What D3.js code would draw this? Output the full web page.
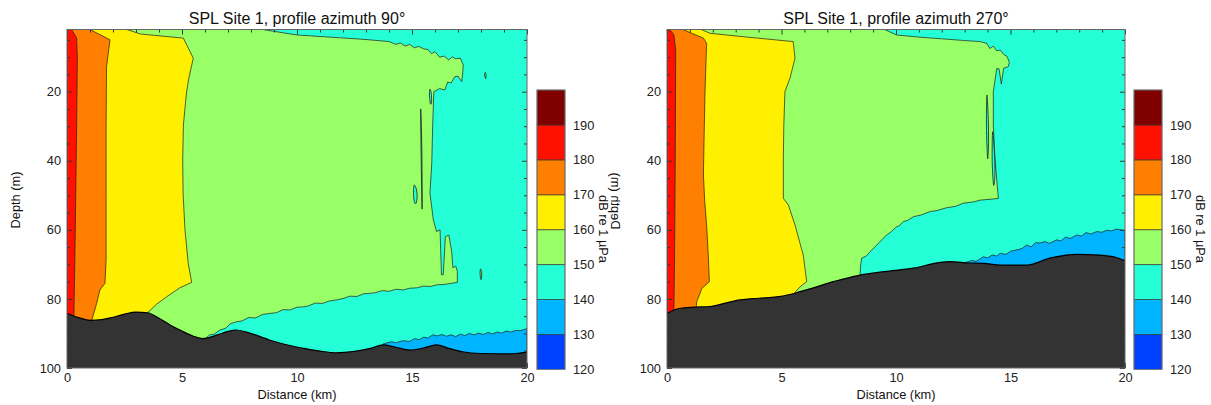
<!DOCTYPE html>
<html><head><meta charset="utf-8">
<script src="https://cdn.jsdelivr.net/npm/d3@7"></script>
<style>body{margin:0;background:#fff}svg{display:block;font-family:"Liberation Sans",Arial,sans-serif}</style>
</head><body><svg id="c" width="1211" height="405"></svg>
<script>
// ---------- data ----------
const titles = ["SPL Site 1, profile azimuth 90°", "SPL Site 1, profile azimuth 270°"];
const distanceTicks = [0, 5, 10, 15, 20];
const depthTicks = [20, 40, 60, 80, 100];
const levels = [120, 130, 140, 150, 160, 170, 180, 190, 200];
const levelTicks = [120, 130, 140, 150, 160, 170, 180, 190];
const levelColors = ["#0040ff", "#00b4ff", "#24ffd8", "#99ff66", "#fff000", "#ff8000", "#ff1000", "#800000"];
const seabedColor = "#333333";

// azimuth 90 : [distance km, depth m]
const seabed90 = [[0,84.2],[0.5,85.4],[1,86.2],[1.5,86],[2,85.3],[2.5,84.4],[3,83.8],[3.5,84],[4,85.6],[4.5,87.6],[5,89.3],[5.5,90.8],[5.9,91.5],[6.5,90.5],[7,89.4],[7.35,89],[7.8,89.6],[8.4,90.9],[8.8,91.9],[9.5,93.2],[10.3,94.3],[11,95.1],[11.7,95.6],[12.5,95.2],[13.2,94.3],[13.75,93.3],[14.3,94],[14.9,94.8],[15.5,94.2],[16.07,93.3],[16.6,94.3],[17.2,95.3],[18,95.8],[19,95.9],[19.5,95.8],[20,95.3]];
const band130_90 = [[13.75,93],[14.1,92.4],[14.3,92.7],[14.6,92.1],[14.9,92.3],[15.1,91.5],[15.3,91.8],[15.5,91.1],[15.7,91.3],[15.9,90.4],[16.1,90.7],[16.3,90.3],[16.5,90.8],[16.7,90.4],[16.9,90.9],[17.1,90.2],[17.3,90.6],[17.5,90.0],[17.7,90.4],[17.9,89.9],[18.1,90.3],[18.3,89.7],[18.5,90.1],[18.7,89.6],[18.9,89.9],[19.1,89.3],[19.3,89.6],[19.5,89.1],[19.7,89.2],[20,88.6],[20,100],[13.75,100]];
const band150_90 = [[0,2],[8.5,2],[10,3.6],[11.9,4.4],[13,4.9],[14,5.5],[14.3,6.3],[14.5,5.9],[14.7,6.8],[14.9,6.3],[15.1,7.3],[15.3,6.9],[15.5,7.6],[15.7,7.8],[15.85,9],[16.0,8.4],[16.2,10],[16.4,9.7],[16.6,10.8],[16.75,9.9],[16.9,10.5],[17.1,10.3],[17.23,12.3],[17.2,15],[17.16,17.1],[17.0,15.5],[16.85,15.7],[16.7,17.5],[16.55,17.2],[16.43,19.5],[16.2,19.1],[15.95,20],[15.9,29.6],[15.86,40.7],[15.78,49.4],[15.93,57.2],[16.07,60.5],[16.22,60],[16.28,73],[16.36,73],[16.45,62],[16.6,61.5],[16.72,66],[16.78,71],[16.9,70.5],[16.97,72],[16.97,75.2],[16.7,75.5],[16.4,75.8],[16.1,75.9],[15.8,76.4],[15.5,76.3],[15.2,76.8],[14.9,76.9],[14.62,77.4],[14.3,77.2],[14.0,77.8],[13.7,77.6],[13.4,78.2],[13.17,78.4],[12.9,78.5],[12.6,79.3],[12.3,79.2],[12.0,79.9],[11.7,80.3],[11.4,80.6],[11.1,81.3],[10.8,81.2],[10.5,82],[10.28,82.3],[10.0,82.4],[9.7,83.2],[9.4,83.1],[9.1,84],[8.83,84.2],[8.5,84.5],[8.2,85.5],[7.9,85.4],[7.6,86.4],[7.38,86.6],[7.1,87.2],[6.9,88.5],[6.65,89],[6.4,90.2],[6.2,90.4],[6.0,91.6],[5.9,100],[0,100]];
const band160_90 = [[0,2],[2.6,2],[3.2,3.3],[5.06,4.5],[5.49,10.3],[5.3,16],[5.2,20],[5.06,29.6],[5.03,40],[5.05,50],[5.13,60],[5.27,69.7],[5.42,75.2],[4.9,76.8],[4.33,79.4],[3.9,81.5],[3.5,84],[3.5,100],[0,100]];
const band170_90 = [[0,2],[1.0,2],[1.87,5],[1.72,12.8],[1.7,30],[1.7,50],[1.7,68.7],[1.65,75.5],[1.43,77.4],[1.29,81.3],[1.07,86.3],[1.07,100],[0,100]];
const band180_90 = [[0,2],[0.2,2],[0.42,4.5],[0.45,10],[0.42,30],[0.38,50],[0.34,70],[0.3,84.5],[0.3,100],[0,100]];
const pockets140_90 = [
  [[15.1,47],[15.2,48.5],[15.22,51],[15.15,52.5],[15.08,51],[15.07,48.5]],
  [[15.38,25],[15.43,38],[15.44,54],[15.4,40]],
  [[15.78,19.3],[15.84,20.5],[15.85,23],[15.8,23.5],[15.76,21]]
];
const specks150_90 = [
  [[18.18,14.4],[18.22,15.2],[18.2,16.2],[18.16,15.2]],
  [[17.98,71.3],[18.03,72.6],[18.0,74.4],[17.96,72.8]]
];

// azimuth 270
const seabed270 = [[0,84.2],[0.57,82.7],[1.2,82.4],[1.88,82.2],[2.5,81.3],[3.19,80.3],[4,79.8],[4.79,79.4],[5.3,78.8],[5.81,77.9],[6.54,76.5],[7.26,75],[7.55,74.5],[8.43,73.1],[9.5,72.1],[10.76,71.1],[11.94,69.4],[12.36,69.2],[13.2,69.6],[13.81,69.7],[14.55,70.2],[15.72,70.2],[16.72,68.2],[17.89,67.1],[18.89,67.3],[19.62,68],[20,68.9]];
const band130_270 = [[13.0,69.5],[13.3,68.9],[13.5,69.1],[13.81,67.8],[14.0,68.1],[14.2,67.3],[14.4,67.6],[14.55,66.8],[14.8,67.1],[15.0,66.2],[15.28,65.8],[15.5,65.4],[15.7,64.4],[15.9,64.9],[16.1,63.7],[16.29,63.8],[16.5,63.4],[16.7,63.9],[17.02,62.9],[17.2,63.2],[17.4,62.1],[17.6,62.5],[17.89,61.5],[18.1,61.8],[18.3,60.8],[18.5,61.2],[18.77,60.5],[19.0,60.7],[19.2,60.1],[19.4,60.3],[19.64,59.8],[20,60.2],[20,100],[13.0,100]];
const band150_270 = [[0,2],[9.5,2],[10.03,3.6],[11,4.2],[12,4.7],[13,5.2],[13.67,5.5],[13.96,6],[14.1,7.5],[14.25,6.8],[14.4,8.2],[14.55,7.9],[14.7,9.2],[14.85,9.8],[14.95,11.5],[14.9,12.8],[14.7,13.2],[14.6,17.8],[14.5,13.4],[14.4,13.3],[14.25,20],[14.25,29.6],[14.32,39.3],[14.47,50.9],[14.2,51.1],[13.67,51.4],[13.4,51.9],[12.94,52.3],[12.6,53.2],[12.21,53.6],[11.8,54.4],[11.49,54.7],[11.1,55.7],[10.76,56.2],[10.5,57.3],[10.32,57.6],[10.15,58.8],[10.03,59.1],[9.8,60.5],[9.59,61.5],[9.4,62.8],[9.23,63.9],[9.05,65.2],[8.87,66.3],[8.7,67.6],[8.5,68.2],[8.45,70.5],[8.43,73.3],[8.43,100],[0,100]];
const band160_270 = [[0,2],[1.5,2],[1.88,3.1],[3.5,4.2],[5.51,5.5],[5.59,10.3],[5.37,16.1],[5.15,20],[5.1,30],[5.08,40],[5.08,50.9],[5.3,52.8],[5.59,58.6],[5.95,67.3],[6.1,75],[5.81,76.5],[5.6,78],[5.6,100],[0,100]];
const band170_270 = [[0,2],[0.7,2],[1.08,3.1],[1.59,4.5],[1.73,6],[1.66,20],[1.63,30],[1.59,44.1],[1.65,52],[1.73,58.6],[1.8,67],[1.85,75],[1.52,77],[1.3,80.8],[1.27,82.7],[1.27,100],[0,100]];
const band180_270 = [[0,2],[0.15,2.3],[0.3,3.5],[0.38,8],[0.37,25],[0.36,40],[0.34,60],[0.32,75],[0.3,83],[0.3,100],[0,100]];
const pockets140_270 = [
  [[13.97,21],[14.03,28],[14.04,35],[14.0,39.3],[13.95,30]],
  [[14.22,31.6],[14.3,38],[14.32,44],[14.26,47],[14.2,40]]
];
const specks150_270 = [];

// ---------- layout ----------
const panels = [
  {title: titles[0], xr: [67, 527], cbx: 537, seabed: seabed90, bands: [[band130_90,1],[band150_90,3]], pockets: pockets140_90, specks: specks150_90, upper: [[band160_90,4],[band170_90,5],[band180_90,6]]},
  {title: titles[1], xr: [667, 1125], cbx: 1134, seabed: seabed270, bands: [[band130_270,1],[band150_270,3]], pockets: pockets140_270, specks: specks150_270, upper: [[band160_270,4],[band170_270,5],[band180_270,6]]}
];
const yr = [29.5, 368];
const svg = d3.select("#c");
const lineCol = "#1c1c1c";

panels.forEach((p, i) => {
  const x = d3.scaleLinear().domain([0, 20]).range(p.xr);
  const y = d3.scaleLinear().domain([2, 100]).range(yr);
  const g = svg.append("g");
  const cid = "clip" + i;
  svg.append("defs").append("clipPath").attr("id", cid).append("rect")
    .attr("x", p.xr[0]).attr("y", yr[0]).attr("width", p.xr[1] - p.xr[0]).attr("height", yr[1] - yr[0]);
  const pg = g.append("g").attr("clip-path", `url(#${cid})`);
  const line = d3.line().x(d => x(d[0])).y(d => y(d[1]));
  const poly = pts => line(pts) + "Z";

  pg.append("rect").attr("x", p.xr[0]).attr("y", yr[0]).attr("width", p.xr[1] - p.xr[0]).attr("height", yr[1] - yr[0]).attr("fill", levelColors[2]);
  p.bands.forEach(([pts, ci]) => pg.append("path").attr("d", poly(pts)).attr("fill", levelColors[ci]).attr("stroke", lineCol).attr("stroke-width", 0.7).attr("stroke-linejoin", "round"));
  p.pockets.forEach(pts => pg.append("path").attr("d", d3.line().x(d => x(d[0])).y(d => y(d[1])).curve(d3.curveCardinalClosed)(pts)).attr("fill", levelColors[2]).attr("stroke", lineCol).attr("stroke-width", 0.8));
  p.specks.forEach(pts => pg.append("path").attr("d", d3.line().x(d => x(d[0])).y(d => y(d[1])).curve(d3.curveCardinalClosed)(pts)).attr("fill", levelColors[3]).attr("stroke", lineCol).attr("stroke-width", 0.8));
  p.upper.forEach(([pts, ci]) => pg.append("path").attr("d", poly(pts)).attr("fill", levelColors[ci]).attr("stroke", lineCol).attr("stroke-width", 0.7).attr("stroke-linejoin", "round"));
  const area = d3.area().x(d => x(d[0])).y0(y(100) + 2).y1(d => y(d[1])).curve(d3.curveMonotoneX);
  pg.append("path").attr("d", area(p.seabed)).attr("fill", seabedColor);
  pg.append("path").attr("d", d3.line().x(d => x(d[0])).y(d => y(d[1])).curve(d3.curveMonotoneX)(p.seabed)).attr("fill", "none").attr("stroke", "#000").attr("stroke-width", 1.2);

  // axes
  const minorX = d3.range(0, 21, 1).filter(v => v % 5);
  const minorY = d3.range(5, 101, 5).filter(v => v % 20);
  const style = sel => { sel.select(".domain").remove(); sel.selectAll("line").attr("stroke", "#333"); sel.selectAll("text").attr("fill", "#222").style("font-size", "12.8px"); };
  g.append("g").attr("transform", `translate(0,${yr[1]})`).call(d3.axisBottom(x).tickValues(distanceTicks).tickFormat(d3.format("d")).tickSizeInner(-5).tickSizeOuter(0).tickPadding(5)).call(style);
  g.append("g").attr("transform", `translate(0,${yr[1]})`).call(d3.axisBottom(x).tickValues(minorX).tickFormat("").tickSizeInner(-3).tickSizeOuter(0)).call(style);
  g.append("g").attr("transform", `translate(0,${yr[0]})`).call(d3.axisTop(x).tickValues(distanceTicks).tickFormat("").tickSizeInner(-5).tickSizeOuter(0)).call(style);
  g.append("g").attr("transform", `translate(0,${yr[0]})`).call(d3.axisTop(x).tickValues(minorX).tickFormat("").tickSizeInner(-3).tickSizeOuter(0)).call(style);
  g.append("g").attr("transform", `translate(${p.xr[0]},0)`).call(d3.axisLeft(y).tickValues(depthTicks).tickFormat(d3.format("d")).tickSizeInner(-5).tickSizeOuter(0).tickPadding(6)).call(style);
  g.append("g").attr("transform", `translate(${p.xr[0]},0)`).call(d3.axisLeft(y).tickValues(minorY).tickFormat("").tickSizeInner(-3).tickSizeOuter(0)).call(style);
  g.append("g").attr("transform", `translate(${p.xr[1]},0)`).call(d3.axisRight(y).tickValues(depthTicks).tickFormat("").tickSizeInner(-5).tickSizeOuter(0)).call(style);
  g.append("g").attr("transform", `translate(${p.xr[1]},0)`).call(d3.axisRight(y).tickValues(minorY).tickFormat("").tickSizeInner(-3).tickSizeOuter(0)).call(style);
  g.append("rect").attr("x", p.xr[0]).attr("y", yr[0]).attr("width", p.xr[1] - p.xr[0]).attr("height", yr[1] - yr[0]).attr("fill", "none").attr("stroke", "#666").attr("stroke-width", 1);

  const cx = (p.xr[0] + p.xr[1]) / 2;
  g.append("text").attr("x", cx).attr("y", 24).attr("text-anchor", "middle").style("font-size", "16px").attr("fill", "#111").text(p.title);
  g.append("text").attr("x", cx).attr("y", 398.5).attr("text-anchor", "middle").style("font-size", "12.8px").attr("fill", "#111").text("Distance (km)");

  // colorbar
  const c = d3.scaleLinear().domain([120, 200]).range([369.5, 90]);
  const cb = g.append("g");
  levels.slice(0, -1).forEach((lv, k) => {
    cb.append("rect").attr("x", p.cbx).attr("y", c(levels[k + 1])).attr("width", 28).attr("height", c(lv) - c(levels[k + 1])).attr("fill", levelColors[k]).attr("stroke", "#333").attr("stroke-width", 0.7);
  });
  cb.append("rect").attr("x", p.cbx).attr("y", 90).attr("width", 28).attr("height", 279.5).attr("fill", "none").attr("stroke", "#888").attr("stroke-width", 0.8);
  g.append("g").attr("transform", `translate(${p.cbx + 28},0)`).call(d3.axisRight(c).tickValues(levelTicks).tickSize(0).tickPadding(8)).call(style);
  g.append("text").attr("transform", `translate(${p.cbx + 62},${229}) rotate(90)`).attr("text-anchor", "middle").style("font-size", "12.8px").attr("fill", "#111").text("dB re 1 µPa");
});

// depth axis labels
svg.append("text").attr("transform", "translate(20,200) rotate(-90)").attr("text-anchor", "middle").style("font-size", "12.8px").attr("fill", "#111").text("Depth (m)");
svg.append("text").attr("transform", "translate(611,201) rotate(-90) scale(1,-1)").attr("text-anchor", "middle").style("font-size", "12.8px").attr("fill", "#111").text("Depth (m)");
</script></body></html>
